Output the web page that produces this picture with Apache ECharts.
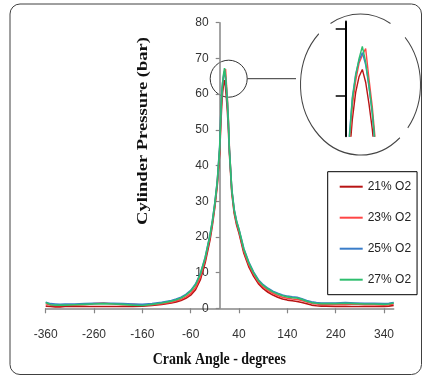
<!DOCTYPE html>
<html><head><meta charset="utf-8">
<script src="https://cdn.jsdelivr.net/npm/echarts@6/dist/echarts.min.js"></script>
<style>html,body{margin:0;padding:0;background:#fff}#c{width:423px;height:376px}</style>
</head><body><div id="c"></div>
<script>
// ---- data ----
const crankAngles = [-360,-350,-340,-330,-320,-300,-280,-260,-240,-220,-200,-180,-160,-140,-120,-100,-90,-80,-70,-60,-50,-40,-30,-20,-15,-10,-5,0,2,4,6,8,10,12,14,16,18,20,25,30,35,40,50,60,70,80,90,100,110,120,130,140,150,160,170,180,190,200,210,220,240,260,280,300,320,340,350,360];
const p21 = [0.6,0.5,0.4,0.4,0.5,0.5,0.5,0.5,0.5,0.5,0.5,0.5,0.6,0.8,1.1,1.5,1.8,2.2,2.8,3.7,5.2,8.0,12.8,19.2,23.4,28.4,34.5,43.5,50.5,56.5,60.5,62.8,63.9,62.0,58.8,55.0,50.0,43.5,32.3,26.6,23.3,21.0,15.4,11.7,9.0,6.9,5.5,4.5,3.7,3.1,2.6,2.3,2.1,1.9,1.6,1.3,0.9,0.7,0.6,0.6,0.5,0.5,0.5,0.5,0.5,0.5,0.6,0.8];
const p23 = [1.3,0.9,0.8,0.8,0.9,0.9,1.0,1.3,1.5,1.2,1.0,1.1,0.9,1.0,1.3,1.7,2.1,2.5,3.2,4.2,5.8,8.8,13.6,20.0,24.0,29.0,35.0,44.5,52.0,58.5,62.2,64.8,66.0,67.0,62.5,58.3,52.8,45.0,33.0,27.2,23.9,21.6,16.0,12.3,9.6,7.4,6.0,5.0,4.2,3.6,3.1,2.8,2.6,2.5,2.2,1.8,1.4,1.2,1.1,1.0,1.0,1.0,1.2,1.0,1.0,0.9,1.0,1.2];
const p25 = [1.7,1.3,1.2,1.1,1.2,1.2,1.3,1.4,1.4,1.4,1.3,1.2,1.1,1.3,1.7,2.2,2.6,3.1,3.9,5.0,6.8,9.7,14.3,20.6,24.6,29.6,35.6,45.5,53.5,59.8,63.2,65.2,66.4,64.6,61.3,57.3,51.8,44.6,33.4,27.7,24.4,22.1,16.7,13.0,10.2,8.0,6.6,5.6,4.8,4.2,3.7,3.4,3.2,3.1,2.7,2.2,1.8,1.6,1.5,1.5,1.5,1.6,1.5,1.4,1.4,1.3,1.4,1.6];
const p27 = [1.6,1.0,0.9,0.9,0.9,1.0,1.1,1.2,1.3,1.2,1.1,0.9,0.8,1.1,1.5,2.0,2.4,2.9,3.7,4.8,6.6,9.6,14.2,20.5,24.5,29.5,35.5,45.0,53.0,59.5,63.0,65.5,67.3,65.0,61.5,57.5,52.0,44.5,33.2,27.5,24.3,22.0,16.5,12.8,10.0,7.8,6.4,5.4,4.6,4.0,3.5,3.2,3.0,2.9,2.5,2.0,1.6,1.4,1.3,1.3,1.3,1.4,1.3,1.2,1.2,1.1,1.2,1.5];
const seriesNames = ['21% O2','23% O2','25% O2','27% O2'];
const seriesValues = [p21, p23, p25, p27];
const xTickValues = [-360,-260,-160,-60,40,140,240,340];
const insetTickValues = [60,70];
const xTitle = 'Crank Angle - degrees';
const yTitle = 'Cylinder Pressure (bar)';

// ---- styles ----
const colors = ['#B81414','#FF4545','#3A7DC9','#2EBE6E'];
const axisGray = '#868686';
function textW(str, font){ const c=document.createElement('canvas').getContext('2d'); c.font=font; return c.measureText(str).width; }
const titleFont = 'bold 16px "Liberation Serif"';
const xTitleScale = 133 / textW(xTitle, titleFont);
const yTitleScale = 188 / textW(yTitle, titleFont);

const gridLeft = 45.7, gridRight = 29.3;
const plotW = 423 - gridLeft - gridRight;
const xMin = -360, xMax = 360;
const yAxisOffset = -plotW * (0 - xMin) / (xMax - xMin); // put the y axis at crank angle 0

const chart = echarts.init(document.getElementById('c'), null, {renderer:'canvas'});
const mkData = arr => crankAngles.map((a,i)=>[a, arr[i]]);

const series = [];
seriesNames.forEach((n,i)=>{
  series.push({name:n, type:'line', xAxisIndex:0, yAxisIndex:0, data:mkData(seriesValues[i]),
    showSymbol:false, symbol:'none', lineStyle:{color:colors[i], width:1.6}, itemStyle:{color:colors[i]}, z:2+i});
});
seriesNames.forEach((n,i)=>{
  series.push({name:n, type:'line', xAxisIndex:1, yAxisIndex:1, data:mkData(seriesValues[i]), clip:true,
    showSymbol:false, symbol:'none', lineStyle:{color:colors[i], width:1.4}, itemStyle:{color:colors[i]}, z:2+i});
});

const ellCx = 360.5, ellCy = 84.5, ellR = 60, ellSy = 70.5/60;
const deg = Math.PI/180;
function ellArc(a0, a1){
  return {type:'arc', x:ellCx, y:ellCy, scaleY:ellSy, silent:true,
    shape:{cx:0, cy:0, r:ellR, startAngle:a0*deg, endAngle:a1*deg, clockwise:true},
    style:{stroke:'#444', lineWidth:1, fill:null}};
}

chart.setOption({
  animation:false,
  backgroundColor:'#fff',
  grid:[
    {left:gridLeft, right:gridRight, top:22.7, bottom:67.7, containLabel:false, outerBoundsMode:'none'},
    {left:345.7, top:21.56, width:38.25, height:114.6, containLabel:false, outerBoundsMode:'none'}
  ],
  xAxis:[
    {type:'value', gridIndex:0, min:xMin, max:xMax,
      axisLine:{show:true, onZero:true, lineStyle:{color:axisGray, width:1.5}},
      axisTick:{show:true, customValues:xTickValues, length:5, lineStyle:{color:axisGray, width:1.2}},
      axisLabel:{show:true, customValues:xTickValues, margin:20, fontSize:12, color:'#333', fontFamily:'Liberation Sans'},
      splitLine:{show:false}},
    {type:'value', gridIndex:1, min:0, max:23, show:false, splitLine:{show:false}}
  ],
  yAxis:[
    {type:'value', gridIndex:0, min:0, max:80, interval:10, position:'left', offset:yAxisOffset,
      axisLine:{show:true, onZero:false, lineStyle:{color:axisGray, width:1.5}},
      axisTick:{show:true, length:4, lineStyle:{color:axisGray, width:1.2}},
      axisLabel:{show:true, margin:11, fontSize:12, color:'#333', fontFamily:'Liberation Sans'},
      splitLine:{show:false}},
    {type:'value', gridIndex:1, min:54, max:71,
      axisLine:{show:true, onZero:false, lineStyle:{color:'#000', width:2}},
      axisTick:{show:true, customValues:insetTickValues, length:10, lineStyle:{color:'#000', width:1.5}},
      axisLabel:{show:false}, splitLine:{show:false}}
  ],
  legend:{
    data:seriesNames, orient:'vertical', left:327.7, top:171.7,
    icon:'rect', itemWidth:23, itemHeight:2, itemGap:17,
    padding:[8,6,8,12], borderColor:'#000', borderWidth:1, backgroundColor:'#fff',
    textStyle:{fontSize:12, color:'#222', lineHeight:14, fontFamily:'Liberation Sans'},
    selectedMode:false
  },
  graphic:[
    {type:'rect', silent:true, shape:{x:10, y:4, width:411.5, height:370.5, r:10}, style:{fill:null, stroke:'#404040', lineWidth:1}},
    {type:'circle', silent:true, shape:{cx:228.7, cy:78.7, r:18.5}, style:{fill:null, stroke:'#333', lineWidth:1}},
    {type:'line', silent:true, shape:{x1:247.3, y1:78.7, x2:296, y2:78.7}, style:{stroke:'#333', lineWidth:1}},
    ellArc(-120, -60),
    ellArc(-42, 38),
    ellArc(49, 226),
    {type:'text', silent:true, x:219.3, y:360, scaleX:xTitleScale,
      style:{text:xTitle, font:titleFont, fill:'#111', align:'center', verticalAlign:'middle', textAlign:'center', textVerticalAlign:'middle'}},
    {type:'text', silent:true, x:143, y:131, rotation:Math.PI/2, scaleX:yTitleScale, scaleY:0.85,
      style:{text:yTitle, font:titleFont, fill:'#111', align:'center', verticalAlign:'middle', textAlign:'center', textVerticalAlign:'middle'}}
  ],
  series:series
});
</script></body></html>
